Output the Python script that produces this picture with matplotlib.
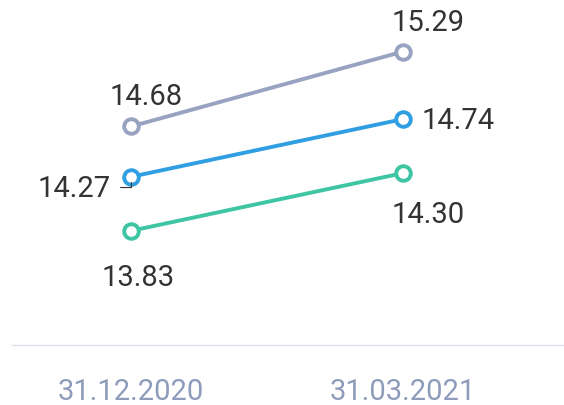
import matplotlib
matplotlib.use("Agg")
import matplotlib.pyplot as plt

plt.rcParams['font.family'] = ['Roboto', 'DejaVu Sans']

# data
dates = ["31.12.2020", "31.03.2021"]
gray_vals = [14.68, 15.29]
blue_vals = [14.27, 14.74]
teal_vals = [13.83, 14.30]

colors = {"gray": "#97a3c0", "blue": "#2f9fe2", "teal": "#3ec5a3"}
text_color = "#333333"

fig = plt.figure(figsize=(5.64, 4.05), dpi=100)
ax = fig.add_axes([12 / 564, 60 / 405, 1 - 12 / 564, 345 / 405])

x = list(range(len(dates)))
for vals, c in [(gray_vals, colors["gray"]), (blue_vals, colors["blue"]), (teal_vals, colors["teal"])]:
    ax.plot(x, vals, color=c, lw=2.8, marker='o', ms=10.5, mfc='white', mec=c, mew=2.8,
            solid_capstyle='round', zorder=3)

# value labels (offsets in pixels)
lab = dict(fontsize=21, color=text_color, textcoords='offset pixels')
ax.annotate(f"{gray_vals[0]:.2f}", (0, gray_vals[0]), xytext=(15, 29), ha='center', va='center', **lab)
ax.annotate(f"{gray_vals[1]:.2f}", (1, gray_vals[1]), xytext=(25, 29), ha='center', va='center', **lab)
ax.annotate(f"{blue_vals[1]:.2f}", (1, blue_vals[1]), xytext=(19, -2), ha='left', va='center', **lab)
ax.annotate(f"{blue_vals[0]:.2f}", (0, blue_vals[0]), xytext=(-20, -12), ha='right', va='center', **lab)
ax.annotate(f"{teal_vals[0]:.2f}", (0, teal_vals[0]), xytext=(7, -47), ha='center', va='center', **lab)
ax.annotate(f"{teal_vals[1]:.2f}", (1, teal_vals[1]), xytext=(25, -42), ha='center', va='center', **lab)

# small leader line for the 14.27 label
ax.annotate("", xy=(0, blue_vals[0]), xytext=(-11, -10), textcoords='offset pixels',
            arrowprops=dict(arrowstyle='-', color=text_color, lw=0.8,
                            connectionstyle='angle,angleA=0,angleB=90,rad=0',
                            shrinkA=0, shrinkB=4))

ax.set_xlim(-119 / 272, 1 + 161 / 272)
ax.set_ylim(12.90, 15.71)

for s in ['top', 'right', 'left']:
    ax.spines[s].set_visible(False)
ax.spines['bottom'].set_color('#dde1ea')
ax.spines['bottom'].set_linewidth(1)
ax.set_yticks([])
ax.set_xticks(x)
ax.set_xticklabels(dates, fontsize=21, color='#8e9bbb')
ax.tick_params(axis='x', length=0, pad=24)

fig.savefig("out.png", dpi=100)
